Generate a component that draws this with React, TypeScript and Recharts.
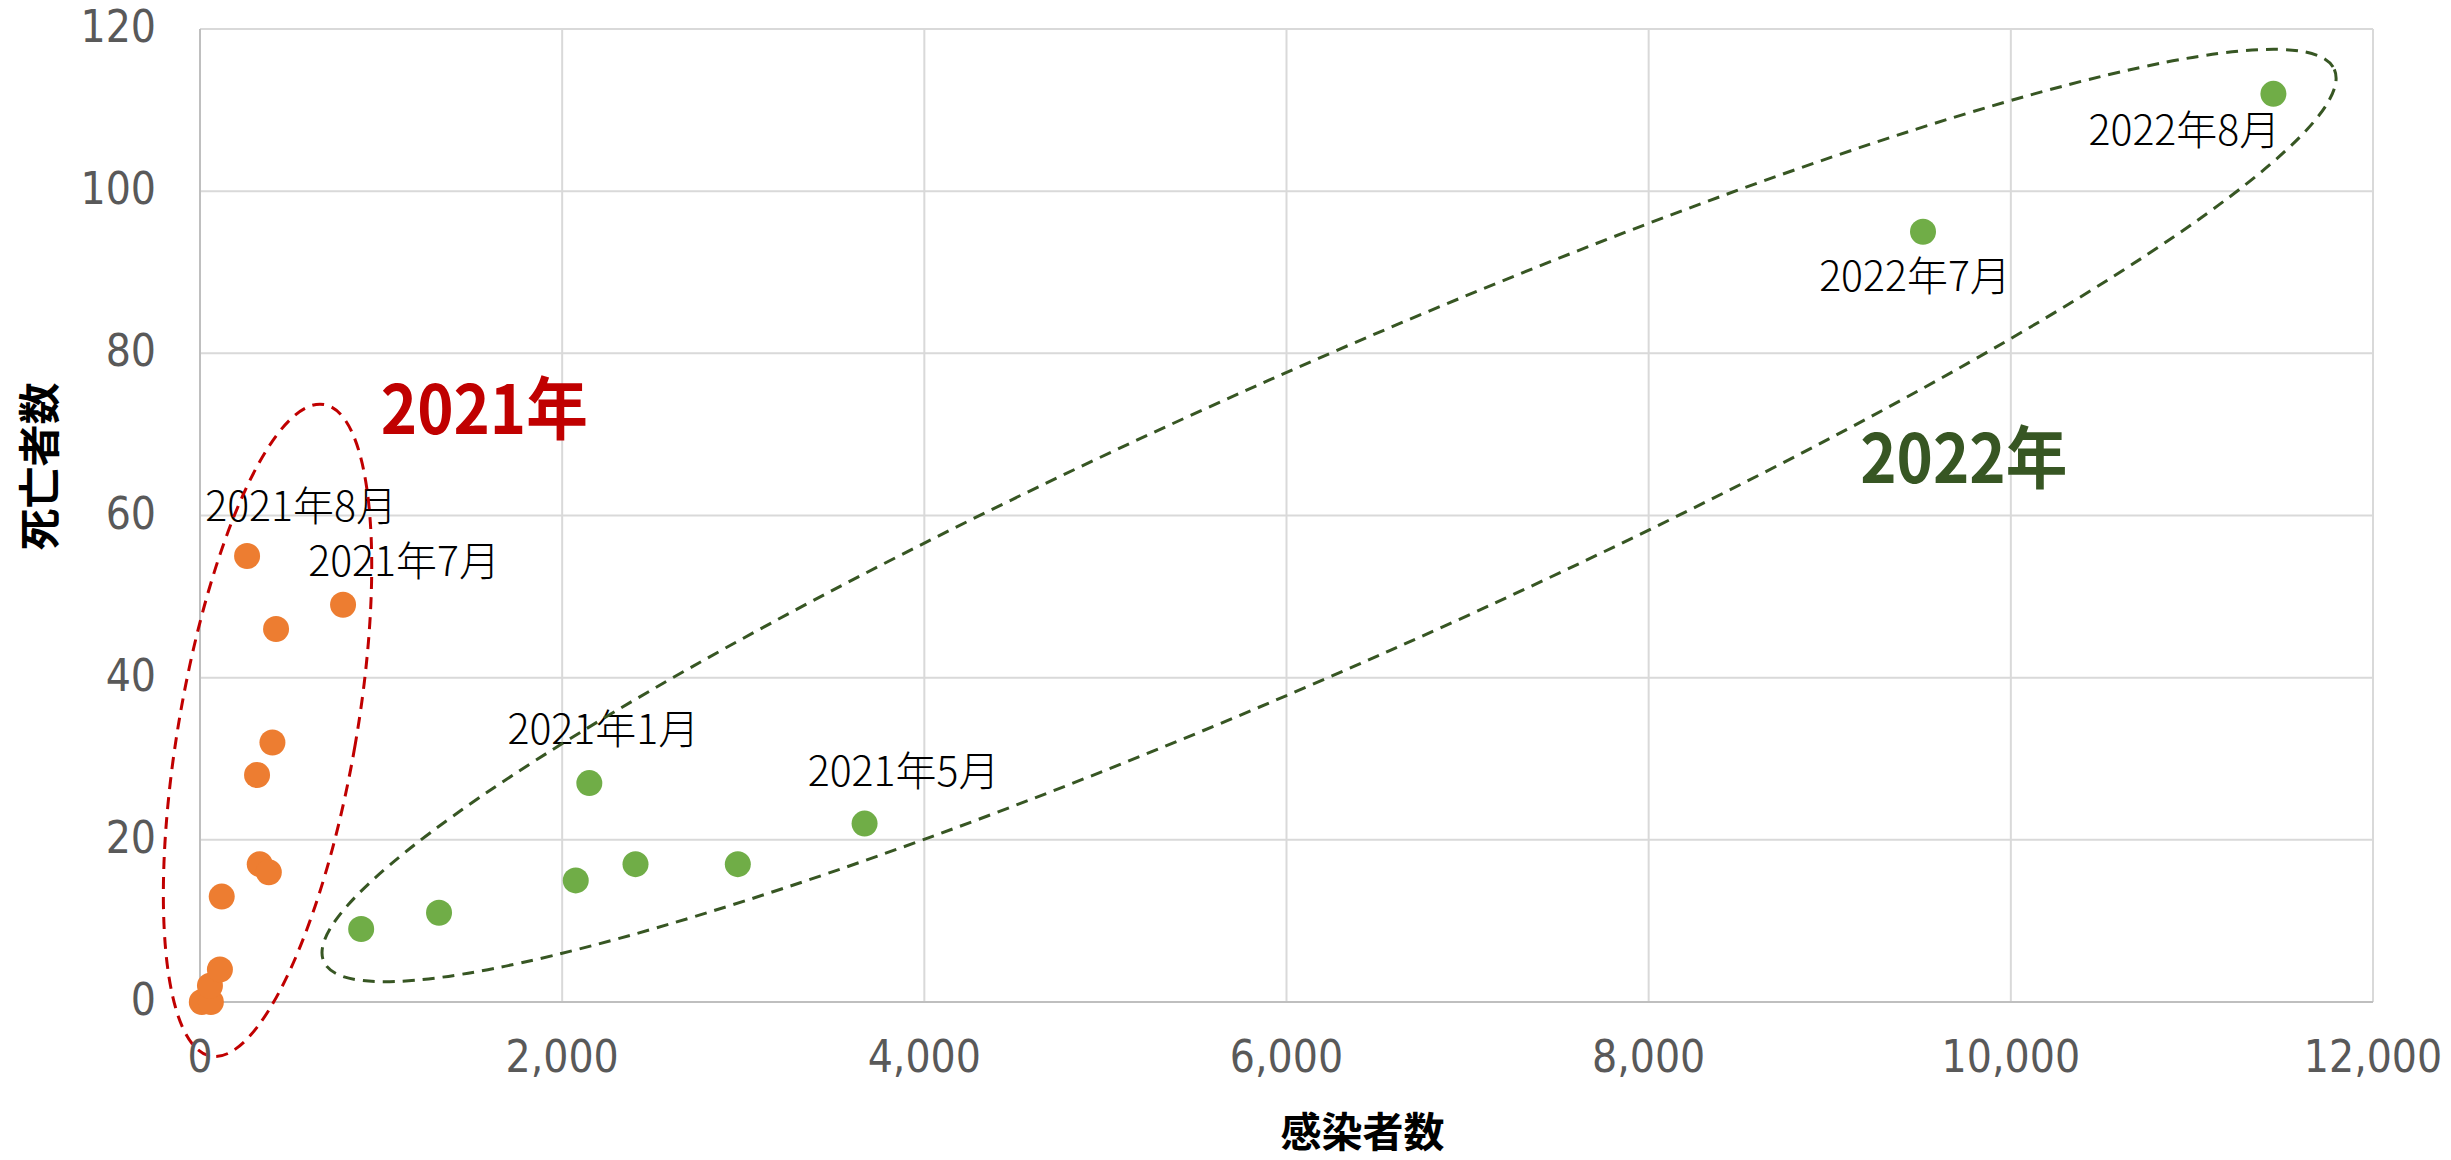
import React from "react";
import {
  ScatterChart,
  Scatter,
  XAxis,
  YAxis,
  CartesianGrid,
  ReferenceDot,
} from "recharts";

// 2021年 group (orange): 感染者数 / 死亡者数
const cases2021 = [10, 60, 55, 110, 120, 330, 380, 315, 400, 420, 790, 260];
const deaths2021 = [0, 0, 2, 4, 13, 17, 16, 28, 32, 46, 49, 55];
const labels2021 = ["", "", "", "", "", "", "", "", "", "", "2021年7月", "2021年8月"];

// 2022年 group (green)
const cases2022 = [890, 1320, 2075, 2150, 2405, 2970, 3670, 9515, 11450];
const deaths2022 = [9, 11, 15, 27, 17, 17, 22, 95, 112];
const labels2022 = ["", "", "", "2021年1月", "", "", "2021年5月", "2022年7月", "2022年8月"];

const xTicks = [0, 2000, 4000, 6000, 8000, 10000, 12000];
const yTicks = [0, 20, 40, 60, 80, 100, 120];

const series2021 = cases2021.map((x, i) => ({ x, y: deaths2021[i], label: labels2021[i] }));
const series2022 = cases2022.map((x, i) => ({ x, y: deaths2022[i], label: labels2022[i] }));

// label placement relative to the dot (px): [dx, baseline dy]
const labelOffsets: Record<string, [number, number]> = {
  "2021年8月": [54, -35],
  "2021年7月": [61, -29],
  "2021年1月": [14, -39],
  "2021年5月": [39, -38],
  "2022年7月": [-8, 59],
  "2022年8月": [-89, 51],
};

const CJK = '"Noto Sans CJK JP", "Noto Sans", sans-serif';
const TICK_FONT = '"Liberation Sans Narrow", "DejaVu Sans Condensed", "Roboto", sans-serif';

const ORANGE = "#ED7D31";
const GREEN = "#70AD47";

const makeDot = (color: string) => (props: any) => {
  const { cx, cy } = props;
  const label = props.payload?.label ?? props.label;
  const off = label ? labelOffsets[label] : null;
  return (
    <g>
      <circle cx={cx} cy={cy} r={13} fill={color} />
      {off && (
        <text
          x={cx + off[0]}
          y={cy + off[1]}
          textAnchor="middle"
          fontSize={41}
          fontWeight={300}
          fontFamily={CJK}
          fill="#000"
        >
          {label}
        </text>
      )}
    </g>
  );
};

const XTick = ({ x, y, payload }: any) => (
  <text x={x} y={y + 70} textAnchor="middle" fontSize={44} fill="#595959" fontFamily={TICK_FONT}>
    {Number(payload.value).toLocaleString("en-US")}
  </text>
);

const YTick = ({ x, y, payload }: any) => (
  <text x={x} y={y + 13} textAnchor="end" fontSize={44} fill="#595959" fontFamily={TICK_FONT}>
    {payload.value}
  </text>
);

const ellipseShape =
  (rx: number, ry: number, angle: number, color: string) => (p: any) => (
    <ellipse
      cx={p.cx}
      cy={p.cy}
      rx={rx}
      ry={ry}
      transform={`rotate(${angle} ${p.cx} ${p.cy})`}
      fill="none"
      stroke={color}
      strokeWidth={3}
      strokeDasharray="12 8"
    />
  );

const bigText = (text: string, color: string) => (p: any) => (
  <text
    x={p.cx}
    y={p.cy}
    textAnchor="middle"
    fontSize={68}
    fontWeight={700}
    fontFamily={CJK}
    fill={color}
    textLength={207}
    lengthAdjust="spacingAndGlyphs"
  >
    {text}
  </text>
);

export default function App() {
  return (
    <div style={{ width: 2451, height: 1160, background: "#fff" }}>
      <style>{"body{margin:0;background:#fff}"}</style>
      <ScatterChart
        width={2451}
        height={1160}
        margin={{ top: 29, right: 78, bottom: 98, left: 100 }}
      >
        <CartesianGrid stroke="#D9D9D9" strokeWidth={2} />
        <XAxis
          type="number"
          dataKey="x"
          domain={[0, 12000]}
          ticks={xTicks}
          height={60}
          tickSize={0}
          tickMargin={0}
          tickLine={false}
          axisLine={{ stroke: "#BFBFBF", strokeWidth: 2 }}
          tick={XTick}
          label={{
            content: (lp: any) => {
              const vb = lp.viewBox;
              return (
                <text
                  x={vb.x + vb.width / 2 + 76}
                  y={1147}
                  textAnchor="middle"
                  fontSize={41}
                  fontWeight={700}
                  fontFamily={CJK}
                  fill="#000"
                >
                  感染者数
                </text>
              );
            },
          }}
        />
        <YAxis
          type="number"
          dataKey="y"
          domain={[0, 120]}
          ticks={yTicks}
          width={100}
          tickSize={0}
          tickMargin={44}
          tickLine={false}
          axisLine={{ stroke: "#BFBFBF", strokeWidth: 2 }}
          tick={YTick}
          label={{
            content: (lp: any) => {
              const vb = lp.viewBox;
              const cx = 36;
              const cy = vb.y + vb.height / 2 - 49;
              return (
                <text
                  x={cx}
                  y={cy}
                  textAnchor="middle"
                  dominantBaseline="central"
                  transform={`rotate(-90 ${cx} ${cy})`}
                  fontSize={42}
                  fontWeight={700}
                  fontFamily={CJK}
                  fill="#000"
                >
                  死亡者数
                </text>
              );
            },
          }}
        />
        <Scatter
          name="2021"
          data={series2021}
          shape={makeDot(ORANGE)}
          isAnimationActive={false}
        />
        <Scatter
          name="2022"
          data={series2022}
          shape={makeDot(GREEN)}
          isAnimationActive={false}
        />
        <ReferenceDot x={373} y={33.5} r={0} shape={ellipseShape(88.8, 330.7, 9.85, "#C00000")} />
        <ReferenceDot x={6235} y={60} r={0} shape={ellipseShape(1099.8, 148.1, -23.93, "#375623")} />
        <ReferenceDot x={1570} y={70} r={0} shape={bigText("2021年", "#C00000")} />
        <ReferenceDot x={9740} y={64} r={0} shape={bigText("2022年", "#375623")} />
      </ScatterChart>
    </div>
  );
}
